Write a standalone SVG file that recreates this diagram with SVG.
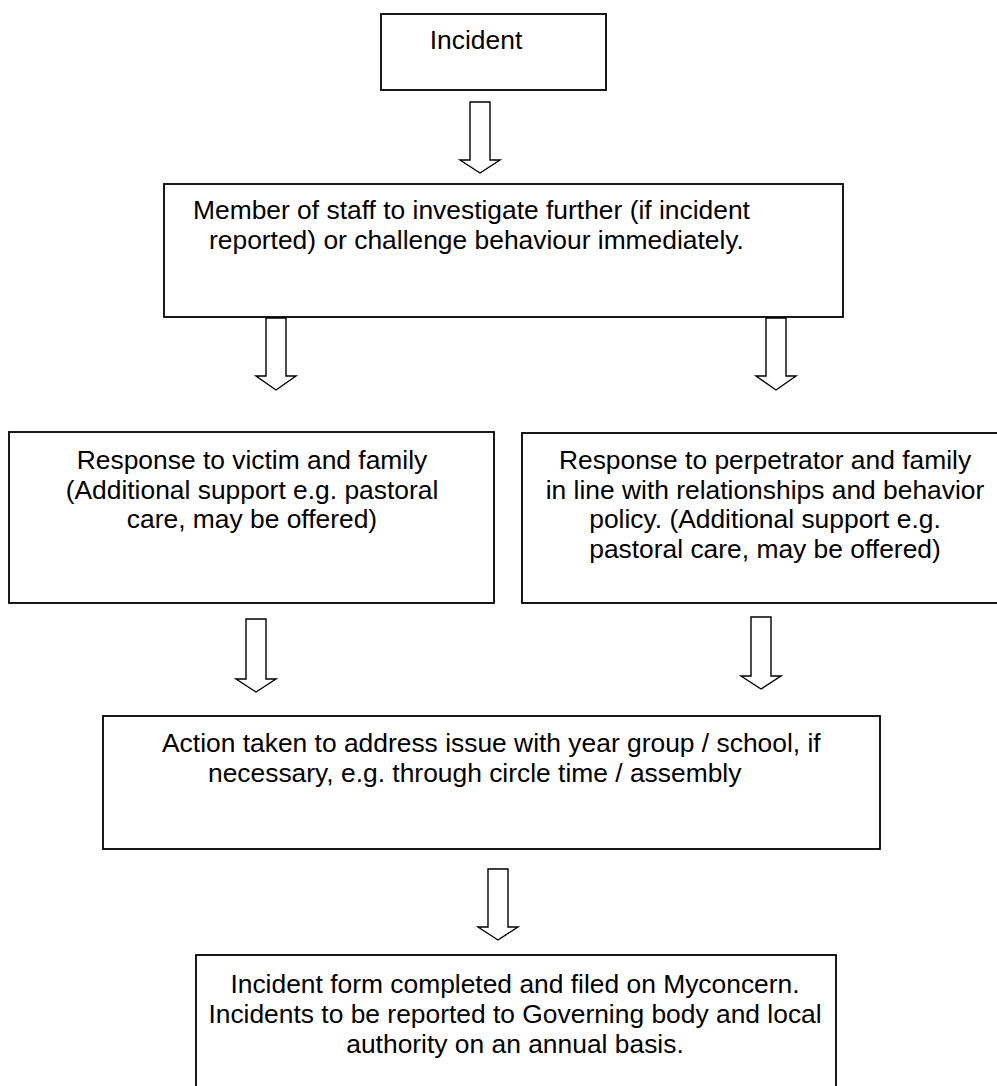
<svg xmlns="http://www.w3.org/2000/svg" width="997" height="1086" viewBox="0 0 997 1086">
<style>
.box{fill:#fff;stroke:#000;stroke-width:1.8}
.arr{fill:#fff;stroke:#000;stroke-width:1.4;stroke-linejoin:miter}
text{font-family:"Liberation Sans",Arial,sans-serif;font-size:26.4px;fill:#000}
.c{text-anchor:middle}
</style>
<rect x="0" y="0" width="997" height="1086" fill="#fff"/>
<g id="connectors">
<polygon class="arr" points="470,102 490,102 490,160 500,160 480,173 460,160 470,160"/>
<polygon class="arr" points="266,318 286,318 286,376 296,376 276,390 256,376 266,376"/>
<polygon class="arr" points="766,318 786,318 786,376 796,376 776,390 756,376 766,376"/>
<polygon class="arr" points="246,619 266,619 266,679 276,679 256,692 236,679 246,679"/>
<polygon class="arr" points="751,617 771,617 771,676 781,676 761,689 741,676 751,676"/>
<polygon class="arr" points="488,869 508,869 508,927 518,927 498,940 478,927 488,927"/>
</g>
<g id="incident">
<rect class="box" x="381" y="14" width="225" height="76"/>
<text class="c" x="476" y="49">Incident</text>
</g>
<g id="investigate">
<rect class="box" x="164" y="184" width="679" height="133"/>
<text x="193" y="219">Member of staff to investigate further (if incident</text>
<text x="209" y="249">reported) or challenge behaviour immediately.</text>
</g>
<g id="victim">
<rect class="box" x="9" y="432" width="485" height="171"/>
<text class="c" x="252" y="469">Response to victim and family</text>
<text class="c" x="252" y="499">(Additional support e.g. pastoral</text>
<text class="c" x="252" y="528">care, may be offered)</text>
</g>
<g id="perpetrator">
<rect class="box" x="522" y="433" width="490" height="170"/>
<text class="c" x="765" y="469">Response to perpetrator and family</text>
<text class="c" x="765" y="499">in line with relationships and behavior</text>
<text class="c" x="765" y="528">policy. (Additional support e.g.</text>
<text class="c" x="765" y="558">pastoral care, may be offered)</text>
</g>
<g id="action">
<rect class="box" x="103" y="716" width="777" height="133"/>
<text x="162" y="752">Action taken to address issue with year group / school, if</text>
<text x="208" y="782">necessary, e.g. through circle time / assembly</text>
</g>
<g id="record">
<rect class="box" x="196" y="955" width="640" height="145"/>
<text class="c" x="515" y="993">Incident form completed and filed on Myconcern.</text>
<text class="c" x="515" y="1023">Incidents to be reported to Governing body and local</text>
<text class="c" x="515" y="1053">authority on an annual basis.</text>
</g>
</svg>
